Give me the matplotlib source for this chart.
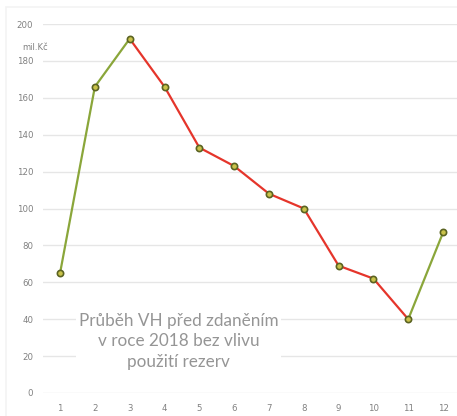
import matplotlib.pyplot as plt
from matplotlib.patches import Rectangle

months = [1, 2, 3, 4, 5, 6, 7, 8, 9, 10, 11, 12]
vh = [65, 166, 192, 166, 133, 123, 108, 100, 69, 62, 40, 87]
y_ticks = [0, 20, 40, 60, 80, 100, 120, 140, 160, 180, 200]

green = '#8aa63a'
red = '#e5352b'

fig = plt.figure(figsize=(4.57, 4.16), dpi=100)
# faint frame around the picture
fig.patches.append(Rectangle((6 / 457, -0.1), 1.2, 1.1 - 7 / 416,
                             transform=fig.transFigure, fill=False,
                             edgecolor='#f3f3f3', lw=1.2))
ax = fig.add_axes([43 / 457, 23 / 416, 414 / 457, 369 / 416])

# segments: green when rising, red when falling
for i in range(len(months) - 1):
    col = green if vh[i + 1] >= vh[i] else red
    ax.plot(months[i:i + 2], vh[i:i + 2], color=col, lw=1.6, zorder=3,
            solid_capstyle='round')

ax.plot(months, vh, ls='none', marker='o', ms=4.5, mfc='#c9c24a',
        mec='#5b6322', mew=1.2, zorder=4)

ax.set_xlim(0.51, 12.4)
ax.set_ylim(0, 200)
ax.set_xticks(months)
ax.set_yticks(y_ticks)
ax.grid(axis='y', color='#e6e6e6', lw=1)
ax.set_axisbelow(True)
for s in ax.spines.values():
    s.set_visible(False)
ax.tick_params(length=0, labelsize=6.2, colors='#808080')
ax.tick_params(axis='y', pad=7)
ax.tick_params(axis='x', pad=8)

ax.text(-0.05, 0.935, 'mil.Kč', transform=ax.transAxes, fontsize=6,
        color='#808080', ha='left', va='center')

ax.text(4.4, 28, 'Průběh VH před zdaněním\nv roce 2018 bez vlivu\npoužití rezerv',
        ha='center', va='center', fontsize=12.3, color='#959595',
        family='Lato', linespacing=1.36, zorder=5,
        bbox=dict(facecolor='white', edgecolor='none', pad=2))

fig.savefig('out.png', dpi=100)
